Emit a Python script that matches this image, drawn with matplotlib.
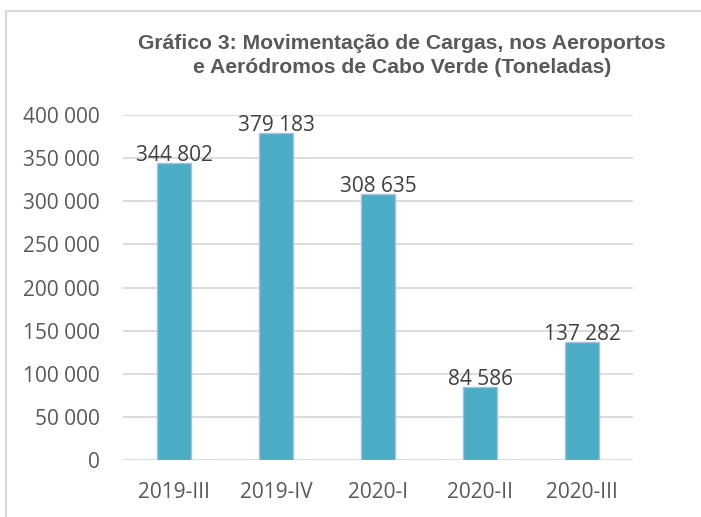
import matplotlib
matplotlib.use("Agg")
import matplotlib.pyplot as plt
from matplotlib.ticker import FuncFormatter
from matplotlib.lines import Line2D

categories = ["2019-III", "2019-IV", "2020-I", "2020-II", "2020-III"]
values = [344802, 379183, 308635, 84586, 137282]
yticks = [0, 50000, 100000, 150000, 200000, 250000, 300000, 350000, 400000]
title1 = "Gráfico 3: Movimentação de Cargas, nos Aeroportos"
title2 = "e Aeródromos de Cabo Verde (Toneladas)"

W, H = 701, 517
fig = plt.figure(figsize=(W / 100, H / 100), dpi=100)
fig.patch.set_facecolor("white")

def fx(px):
    return px / W

def fy(py):
    return 1 - py / H

ax = fig.add_axes([fx(123), fy(460), fx(633) - fx(123), fy(115) - fy(460)])

def fmt(v):
    return f"{int(round(v)):,}".replace(",", " ")

x = list(range(len(categories)))
ax.bar(x, values, width=0.33, color="#4BACC6", edgecolor="#a7c0e0", linewidth=1.0, zorder=3)

ax.set_xlim(-0.5, len(categories) - 0.5)
ax.set_ylim(0, 400000)
ax.set_yticks(yticks)
ax.yaxis.set_major_formatter(FuncFormatter(lambda v, p: fmt(v)))
ax.set_xticks(x)
ax.set_xticklabels(categories)

ax.grid(axis="y", color="#d9d9d9", linewidth=1.3, zorder=0)
ax.set_axisbelow(True)
for s in ax.spines.values():
    s.set_visible(False)
ax.tick_params(axis="both", length=0, labelsize=15, labelcolor="#595959")
ax.tick_params(axis="y", pad=17)
ax.tick_params(axis="x", pad=16)
for lbl in ax.get_xticklabels() + ax.get_yticklabels():
    lbl.set_fontfamily("Open Sans")

for xi, v in zip(x, values):
    ax.annotate(fmt(v), (xi, v), xytext=(0, 1.3), textcoords="offset points",
                ha="center", va="baseline", fontsize=15, color="#404040",
                family="Open Sans", zorder=4)

fig.text(fx(402), fy(49), title1, ha="center", va="baseline", fontsize=15.2,
         fontweight="bold", color="#595959", family="Liberation Sans")
fig.text(fx(402), fy(73), title2, ha="center", va="baseline", fontsize=15.2,
         fontweight="bold", color="#595959", family="Liberation Sans")

fig.add_artist(Line2D([fx(6), 1], [fy(10.5), fy(10.5)], color="#d9d9d9", linewidth=1.5,
                      transform=fig.transFigure))
fig.add_artist(Line2D([fx(6), fx(6)], [fy(10.5), 0], color="#d9d9d9", linewidth=1.5,
                      transform=fig.transFigure))

fig.savefig("out.png", dpi=100, facecolor="white")
